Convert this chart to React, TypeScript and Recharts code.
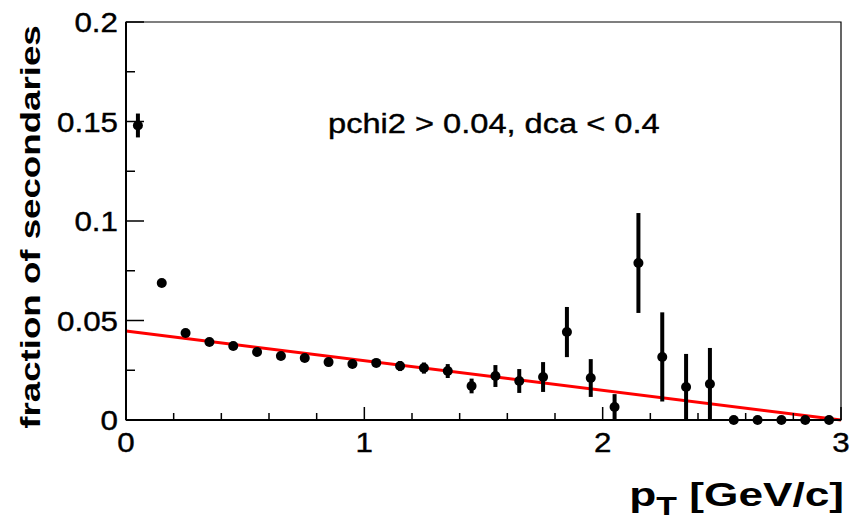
import {
  ComposedChart,
  XAxis,
  YAxis,
  Scatter,
  Line,
  ErrorBar,
  ReferenceArea,
} from "recharts";

const FONT = '"Liberation Sans", Arial, Helvetica, sans-serif';

// bin centres in pT [GeV/c]
const binCenters = [
  0.05, 0.15, 0.25, 0.35, 0.45, 0.55, 0.65, 0.75, 0.85, 0.95,
  1.05, 1.15, 1.25, 1.35, 1.45, 1.55, 1.65, 1.75, 1.85, 1.95,
  2.05, 2.15, 2.25, 2.35, 2.45, 2.55, 2.65, 2.75, 2.85, 2.95,
];
const fraction = [
  0.148, 0.0688, 0.0437, 0.0392, 0.0372, 0.0342, 0.0322, 0.0312, 0.0291, 0.0281,
  0.0287, 0.0271, 0.0261, 0.0246, 0.0171, 0.0221, 0.0196, 0.0216, 0.0442, 0.0211,
  0.0065, 0.0789, 0.0317, 0.0166, 0.0181, 0, 0, 0, 0, 0,
];
const fractionErr = [
  0.006, 0.0015, 0.0015, 0.0015, 0.0015, 0.0015, 0.0015, 0.0015, 0.0015, 0.0015,
  0.002, 0.0025, 0.0028, 0.0035, 0.0037, 0.0055, 0.006, 0.0075, 0.0126, 0.0095,
  0.0065, 0.0251, 0.0224, 0.0166, 0.0181, 0, 0, 0, 0, 0,
];

// linear fit
const fitX = [0, 3];
const fitY = [0.0447, 0];

const xTicks = [0, 0.2, 0.4, 0.6, 0.8, 1, 1.2, 1.4, 1.6, 1.8, 2, 2.2, 2.4, 2.6, 2.8, 3];
const yTicks = [0, 0.025, 0.05, 0.075, 0.1, 0.125, 0.15, 0.175, 0.2];

const points = binCenters.map((x, i) => ({ x, y: fraction[i], err: fractionErr[i] }));
const fit = fitX.map((x, i) => ({ x, y: fitY[i] }));

const isMajor = (v: number, step: number) => Math.abs(v / step - Math.round(v / step)) < 1e-6;

const YTick = (props: any) => {
  const { x, y, payload } = props;
  const v = payload.value as number;
  const major = isMajor(v, 0.05);
  return (
    <g>
      <line x1={x} x2={x + (major ? 18 : 9)} y1={y} y2={y} stroke="#000" strokeWidth={1.5} />
      {major && (
        <text
          transform={`translate(${x - 8},${y + 10}) scale(1.12,1)`}
          textAnchor="end"
          fontSize={28}
          fontFamily={FONT}
          fill="#000"
          stroke="#000"
          strokeWidth={0.4}
        >
          {String(v)}
        </text>
      )}
    </g>
  );
};

const XTick = (props: any) => {
  const { x, y, payload } = props;
  const v = payload.value as number;
  const major = isMajor(v, 1);
  return (
    <g>
      <line x1={x} x2={x} y1={y} y2={y - (major ? 13 : 7)} stroke="#000" strokeWidth={1.5} />
      {major && (
        <text
          transform={`translate(${x},${y + 32}) scale(1.12,1)`}
          textAnchor="middle"
          fontSize={28}
          fontFamily={FONT}
          fill="#000"
          stroke="#000"
          strokeWidth={0.4}
        >
          {String(v)}
        </text>
      )}
    </g>
  );
};

const YTitle = (props: any) => {
  const vb = props.viewBox;
  const x = vb.x + 40;
  const y = vb.y + vb.height / 2 + 6;
  return (
    <text
      transform={`translate(${x},${y}) rotate(-90) scale(1.31,1)`}
      textAnchor="middle"
      fontSize={28}
      fontWeight={700}
      fontFamily={FONT}
      fill="#000"
    >
      fraction of secondaries
    </text>
  );
};

const XTitle = (props: any) => {
  const vb = props.viewBox;
  const x = vb.x + vb.width + 3;
  const y = vb.y + 86;
  return (
    <text
      transform={`translate(${x},${y}) scale(1.3,1)`}
      textAnchor="end"
      fontSize={34}
      fontWeight={700}
      fontFamily={FONT}
      fill="#000"
    >
      p
      <tspan fontSize={26} dy={9}>
        T
      </tspan>
      <tspan dy={-9}> [GeV/c]</tspan>
    </text>
  );
};

const Cuts = (props: any) => {
  const vb = props.viewBox;
  return (
    <text
      transform={`translate(${vb.x + 202},${vb.y + 111}) scale(1.165,1)`}
      textAnchor="start"
      fontSize={28}
      fontFamily={FONT}
      fill="#000"
      stroke="#000"
      strokeWidth={0.4}
    >
      {"pchi2 > 0.04, dca < 0.4"}
    </text>
  );
};

const Dot = (props: any) => <circle cx={props.cx} cy={props.cy} r={5} fill="#000" />;

export default function App() {
  return (
    <div style={{ position: "absolute", left: 0, top: 0, width: 862, height: 519, background: "#fff" }}>
      <ComposedChart width={862} height={519} margin={{ top: 22, right: 21, bottom: 0, left: 0 }}>
        <XAxis
          dataKey="x"
          type="number"
          domain={[0, 3]}
          ticks={xTicks}
          interval={0}
          tickSize={0}
          tickMargin={0}
          tickLine={false}
          tick={<XTick />}
          height={99}
          axisLine={{ stroke: "#000", strokeWidth: 2 }}
          label={{ content: (p: any) => <XTitle {...p} /> }}
        />
        <YAxis
          type="number"
          domain={[0, 0.2]}
          ticks={yTicks}
          interval={0}
          tickSize={0}
          tickMargin={0}
          tickLine={false}
          tick={<YTick />}
          width={126}
          axisLine={{ stroke: "#000", strokeWidth: 2 }}
          label={{ content: (p: any) => <YTitle {...p} /> }}
        />
        <ReferenceArea
          x1={0}
          x2={3}
          y1={0}
          y2={0.2}
          fill="none"
          stroke="#000"
          strokeWidth={1.2}
          label={{ content: (p: any) => <Cuts {...p} /> }}
        />
        <Line
          data={fit}
          dataKey="y"
          type="linear"
          stroke="#ff0000"
          strokeWidth={3}
          dot={false}
          activeDot={false}
          isAnimationActive={false}
        />
        <Scatter data={points} dataKey="y" shape={<Dot />} isAnimationActive={false}>
          <ErrorBar dataKey="err" direction="y" width={0} stroke="#000" strokeWidth={4} />
        </Scatter>
      </ComposedChart>
    </div>
  );
}
